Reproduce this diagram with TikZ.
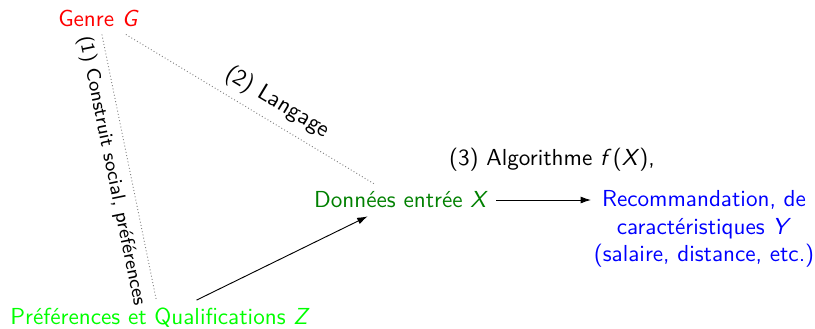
\documentclass[tikz,border=0pt]{standalone}
\usepackage{fontspec}
\usetikzlibrary{arrows.meta}
\begin{document}
\begin{tikzpicture}[x=0.432pt, y=-0.432pt, font=\sffamily,
  link/.style={gray, densely dotted},
  flow/.style={-{Latex[length=4.5pt,width=3pt]}, line width=0.4pt},
  lbl/.style={font=\sffamily, text=black},
  smalllbl/.style={font=\sffamily\fontsize{8.4}{10}\selectfont, text=black}]
  \useasboundingbox (0,0) rectangle (815,328);

  % variables
  \node[text=red] (G) at (98.5,18) {Genre \textit{G}};
  \node[text=green!50!black] (X) at (401,200) {Données entrée \textit{X}};
  \node[text=green] (Z) at (160,318) {Préférences et Qualifications \textit{Z}};
  \node[text=blue, align=center, inner xsep=1pt] (Y) at (704,229)
    {Recommandation, de\\caractéristiques \textit{Y}\\(salaire, distance, etc.)};

  % links between variables
  \draw[link] (G) -- node[smalllbl, sloped, below, pos=0.5] {(1) Construit social, préférences} (Z);
  \draw[link] (G) -- node[lbl, sloped, above, pos=0.57] {(2) Langage} (X);
  \draw[flow] (Z) -- (X);
  \draw[flow] (X) -- (X -| Y.west);
  \node[lbl] (alg) at (552,160) {(3) Algorithme \textit{f}\kern0.6pt(\textit{X}),};
\end{tikzpicture}
\end{document}
